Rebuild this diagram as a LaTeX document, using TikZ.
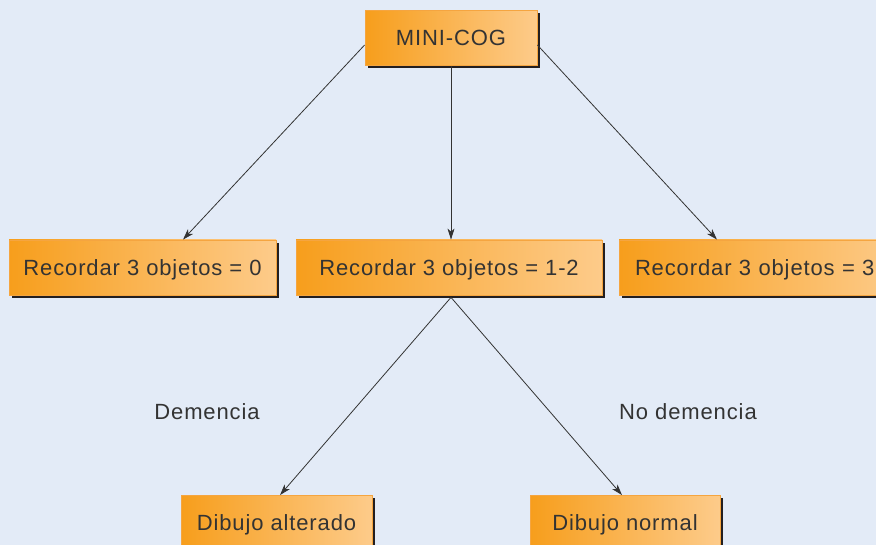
\documentclass[tikz,border=0pt]{standalone}
\usepackage{fontspec}
\setmainfont{Liberation Sans}[LetterSpace=4]
\usetikzlibrary{shadows,arrows.meta}
\definecolor{bg}{RGB}{227,235,247}
\definecolor{orA}{RGB}{247,158,28}
\definecolor{orB}{RGB}{253,203,138}
\definecolor{orline}{RGB}{245,165,64}
\definecolor{ink}{RGB}{51,51,51}
\definecolor{shad}{RGB}{35,31,32}
\begin{document}
\begin{tikzpicture}[x=1pt,y=1pt,
  box/.style={rectangle, draw=orline, line width=0.8pt, left color=orA, right color=orB,
    minimum height=55pt, inner sep=0pt, text=ink, text height=18pt, text depth=2pt,
    font=\fontsize{22}{26}\selectfont,
    drop shadow={shadow xshift=3pt, shadow yshift=-3pt, fill=shad, opacity=1}},
  lbl/.style={text=ink, font=\fontsize{22}{26}\selectfont, inner sep=0pt},
  arr/.style={draw=ink, line width=0.8pt, -{Stealth[length=11pt,width=7pt,inset=3pt]}}]
\useasboundingbox (0,0) rectangle (876,545);
\clip (0,0) rectangle (876,545);
\fill[bg] (0,0) rectangle (876,545);
\node[box, minimum width=172pt] (mini) at (451,507) {MINI-COG};
\node[box, minimum width=267pt] (r0) at (142.5,277.5) {Recordar 3 objetos = 0};
\node[box, minimum width=306pt] (r12) at (449,277.5) {Recordar 3 objetos = 1-2};
\node[box, inner xsep=16pt, text width=250pt, align=left] (r3) at (760,277.5) {Recordar 3 objetos = 3};
\node[box, minimum width=191pt] (alt) at (276.5,22) {Dibujo alterado};
\node[box, minimum width=190pt] (norm) at (625,22) {Dibujo normal};
\node[lbl] (dem) at (207,133) {Demencia};
\node[lbl] (nodem) at (688,133) {No demencia};
\draw[arr] ([yshift=-7pt]mini.west) -- ([xshift=40.5pt]r0.north);
\draw[arr] (mini.south) -- (mini.south |- r12.north);
\draw[arr] ([yshift=-7pt]mini.east) -- ([xshift=-43pt]r3.north);
\draw[arr] ([xshift=2pt,yshift=-2pt]r12.south) -- ([xshift=3.5pt]alt.north);
\draw[arr] ([xshift=2pt,yshift=-2pt]r12.south) -- ([xshift=-3pt]norm.north);
\end{tikzpicture}
\end{document}
